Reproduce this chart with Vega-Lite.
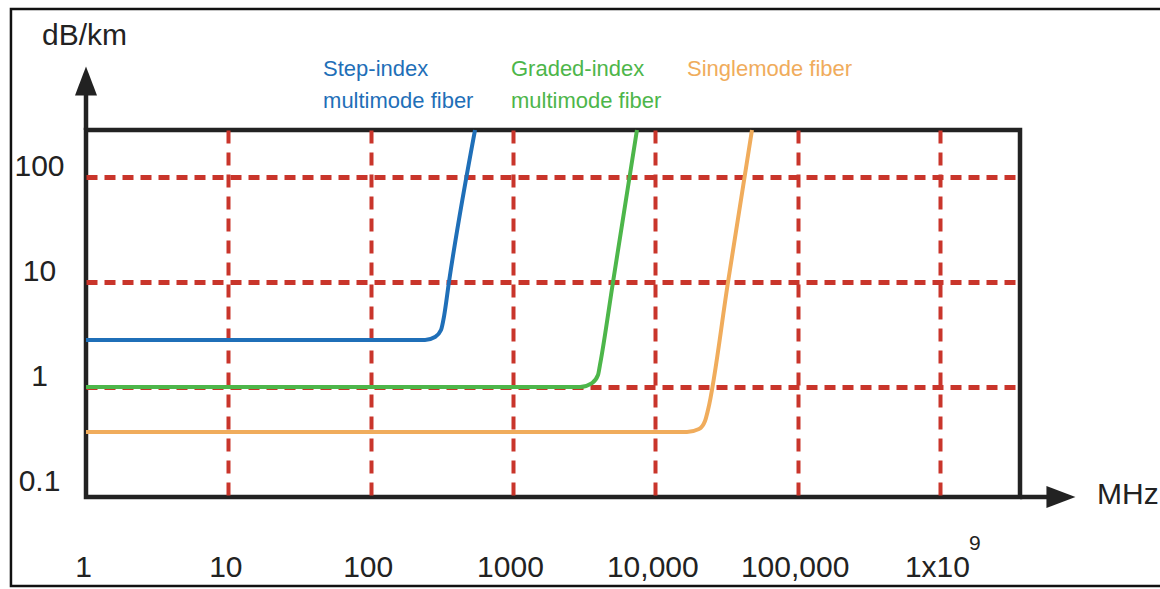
{
  "$schema": "https://vega.github.io/schema/vega-lite/v6.json",
  "autosize": "none",
  "width": 934,
  "height": 367,
  "padding": {"left": 86, "top": 130, "right": 140, "bottom": 92},
  "background": "white",
  "config": {
    "view": {"stroke": "#222222", "strokeWidth": 4.5},
    "axis": {"domain": false, "ticks": false, "tickSize": 0, "labelFont": "Liberation Sans", "labelFontSize": 30, "labelColor": "#222222", "labelFlush": false, "labelOverlap": false, "labelBound": false, "gridColor": "#c9352b"}
  },
  "datasets": {
    "curves": [
      {"series": "step", "x": 1, "y": 2.8},
      {"series": "step", "x": 241, "y": 2.8},
      {"series": "step", "x": 283, "y": 2.99},
      {"series": "step", "x": 312, "y": 3.49},
      {"series": "step", "x": 328, "y": 4.74},
      {"series": "step", "x": 355, "y": 10},
      {"series": "step", "x": 541, "y": 280},
      {"series": "graded", "x": 1, "y": 1},
      {"series": "graded", "x": 2958, "y": 1},
      {"series": "graded", "x": 3592, "y": 1.09},
      {"series": "graded", "x": 3957, "y": 1.3},
      {"series": "graded", "x": 4085, "y": 1.62},
      {"series": "graded", "x": 5045, "y": 10},
      {"series": "graded", "x": 7430, "y": 280},
      {"series": "single", "x": 1, "y": 0.373},
      {"series": "single", "x": 16700, "y": 0.373},
      {"series": "single", "x": 20270, "y": 0.398},
      {"series": "single", "x": 22340, "y": 0.474},
      {"series": "single", "x": 23450, "y": 0.604},
      {"series": "single", "x": 32430, "y": 10},
      {"series": "single", "x": 47770, "y": 280}
    ],
    "notes": [
      {"series": "step", "text": "Step-index", "x": 46.3, "y": 916},
      {"series": "step", "text": "multimode fiber", "x": 46.3, "y": 454},
      {"series": "graded", "text": "Graded-index", "x": 968, "y": 916},
      {"series": "graded", "text": "multimode fiber", "x": 968, "y": 454},
      {"series": "single", "text": "Singlemode fiber", "x": 16700, "y": 916}
    ],
    "titles": [
      {"text": "dB/km", "x": 0.491, "y": 2203},
      {"text": "MHz", "x": 12700000, "y": 0.0936}
    ],
    "sup": [
      {"text": "9", "x": 1760000, "y": 0.032}
    ],
    "arrows": [
      {"x": 1, "x2": 1, "y": 280, "y2": 650},
      {"x": 3650000, "x2": 6200000, "y": 0.0896, "y2": 0.0896}
    ],
    "headUp": [{"x": 1, "y": 821}],
    "headRight": [{"x": 7080000, "y": 0.0896}],
    "frame": [{"x": 0.297, "x2": 38100000, "y": 3981, "y2": 0.0127}]
  },
  "layer": [
    {
      "data": {"name": "frame"},
      "mark": {"type": "rect", "fill": null, "stroke": "#111111", "strokeWidth": 2.5},
      "encoding": {
        "x": {"field": "x", "type": "quantitative", "scale": {"type": "log", "domain": [1, 3650000], "nice": false}, "axis": {"title": null, "values": [1, 10, 100, 1000, 10000, 100000, 1000000], "labelAlign": "center", "labelBaseline": "middle", "labelPadding": 70, "labelOffset": -3, "labelExpr": "datum.value >= 1000000 ? '1x10' : (datum.value >= 10000 ? format(datum.value, ',') : format(datum.value, 'd'))", "gridWidth": 4, "gridDash": [13, 9], "gridOpacity": {"condition": {"test": "datum.value < 2", "value": 0}, "value": 1}}},
        "x2": {"field": "x2"},
        "y": {"field": "y", "type": "quantitative", "scale": {"type": "log", "domain": [0.0896, 280], "nice": false}, "axis": {"title": null, "values": [0.1, 1, 10, 100], "labelAlign": "center", "labelBaseline": "middle", "labelPadding": 47, "labelOffset": -10, "labelExpr": "format(datum.value, '~g')", "gridWidth": 5, "gridDash": [11, 7], "gridOpacity": {"condition": {"test": "datum.value < 0.5", "value": 0}, "value": 1}}},
        "y2": {"field": "y2"}
      }
    },
    {
      "data": {"name": "curves"},
      "mark": {"type": "line", "strokeWidth": 4, "interpolate": "monotone"},
      "encoding": {
        "x": {"field": "x", "type": "quantitative"},
        "y": {"field": "y", "type": "quantitative"},
        "color": {"field": "series", "type": "nominal", "scale": {"domain": ["step", "graded", "single"], "range": ["#1f6fb8", "#4db64a", "#f0ac5c"]}, "legend": null}
      }
    },
    {
      "data": {"name": "arrows"},
      "mark": {"type": "rule", "strokeWidth": 4.5, "color": "#222222"},
      "encoding": {
        "x": {"field": "x", "type": "quantitative"},
        "x2": {"field": "x2"},
        "y": {"field": "y", "type": "quantitative"},
        "y2": {"field": "y2"}
      }
    },
    {
      "data": {"name": "headUp"},
      "mark": {"type": "point", "shape": "M-0.76,1L0,-1L0.76,1Z", "size": 841, "filled": true, "color": "#222222", "opacity": 1, "strokeWidth": 0},
      "encoding": {
        "x": {"field": "x", "type": "quantitative"},
        "y": {"field": "y", "type": "quantitative"}
      }
    },
    {
      "data": {"name": "headRight"},
      "mark": {"type": "point", "shape": "M-1,-0.76L1,0L-1,0.76Z", "size": 841, "filled": true, "color": "#222222", "opacity": 1, "strokeWidth": 0},
      "encoding": {
        "x": {"field": "x", "type": "quantitative"},
        "y": {"field": "y", "type": "quantitative"}
      }
    },
    {
      "data": {"name": "notes"},
      "mark": {"type": "text", "align": "left", "baseline": "alphabetic", "font": "Liberation Sans", "fontSize": 22},
      "encoding": {
        "x": {"field": "x", "type": "quantitative"},
        "y": {"field": "y", "type": "quantitative"},
        "text": {"field": "text"},
        "color": {"field": "series", "type": "nominal", "scale": {"domain": ["step", "graded", "single"], "range": ["#1f6fb8", "#4db64a", "#f0ac5c"]}, "legend": null}
      }
    },
    {
      "data": {"name": "titles"},
      "mark": {"type": "text", "align": "left", "baseline": "middle", "font": "Liberation Sans", "fontSize": 30, "color": "#222222"},
      "encoding": {
        "x": {"field": "x", "type": "quantitative"},
        "y": {"field": "y", "type": "quantitative"},
        "text": {"field": "text"}
      }
    },
    {
      "data": {"name": "sup"},
      "mark": {"type": "text", "align": "center", "baseline": "middle", "font": "Liberation Sans", "fontSize": 21, "color": "#222222"},
      "encoding": {
        "x": {"field": "x", "type": "quantitative"},
        "y": {"field": "y", "type": "quantitative"},
        "text": {"field": "text"}
      }
    }
  ]
}
